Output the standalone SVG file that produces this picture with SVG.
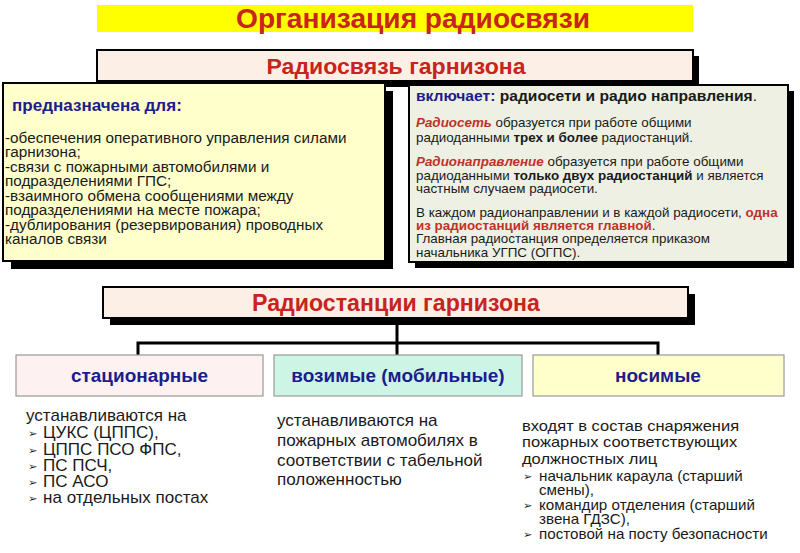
<svg xmlns="http://www.w3.org/2000/svg" width="800" height="553" viewBox="0 0 800 553">
<style>
text{font-family:"Liberation Sans",Arial,sans-serif;fill:#1a1a1a}
.h{font-weight:bold;fill:#c8231c;text-anchor:middle}
.blue{font-weight:bold;fill:#1c1c8c}
.red{font-weight:bold;fill:#c0302c}
.redi{font-weight:bold;font-style:italic;fill:#c0302c}
.b{font-weight:bold}
.box{stroke:#000;stroke-width:2}
.sh{fill:#000}
.cat{stroke:#999;stroke-width:1.2}
.cattx{font-weight:bold;fill:#1c1c8c;font-size:17.5px;text-anchor:middle}
.bul{font-family:"DejaVu Sans",sans-serif;font-size:10.5px}
.conn{stroke:#000;stroke-width:3;fill:none}
</style>
<rect width="800" height="553" fill="#fff"/>
<g id="title">
<rect x="97" y="5" width="596" height="27" fill="#ffff00"/>
<text class="h" x="413" y="28" font-size="27" textLength="354" lengthAdjust="spacingAndGlyphs">Организация радиосвязи</text>
</g>
<g id="garrison-radio">
<rect class="sh" x="103" y="56" width="596" height="31"/>
<rect class="box" x="97" y="50" width="596" height="31" fill="#fcefe6"/>
<text class="h" x="396" y="74" font-size="22" textLength="259" lengthAdjust="spacingAndGlyphs">Радиосвязь гарнизона</text>
</g>
<g id="purpose">
<rect class="sh" x="11" y="91" width="382" height="178"/>
<rect class="box" x="3" y="83" width="382" height="178" fill="#ffffcc"/>
<text class="blue" x="12" y="111" font-size="15.7" transform="matrix(1.085 0 0 1 -1.02 0)">предназначена для:</text>
<g font-size="14.1" transform="matrix(1.085 0 0 1 -0.425 0)">
<text x="5" y="143">-обеспечения оперативного управления силами</text>
<text x="5" y="157.5">гарнизона;</text>
<text x="5" y="172">-связи с пожарными автомобилями и</text>
<text x="5" y="186.5">подразделениями ГПС;</text>
<text x="5" y="201">-взаимного обмена сообщениями между</text>
<text x="5" y="215.5">подразделениями на месте пожара;</text>
<text x="5" y="230">-дублирования (резервирования) проводных</text>
<text x="5" y="244.5">каналов связи</text>
</g>
</g>
<g id="includes">
<rect class="sh" x="415" y="91" width="379" height="177"/>
<rect class="box" x="409" y="85" width="379" height="177" fill="#eef0e3"/>
<g transform="matrix(1.085 0 0 1 -35.36 0)">
<text x="416" y="101" font-size="14.4"><tspan class="blue">включает:</tspan><tspan class="b"> радиосети и радио направления</tspan>.</text>
<g font-size="12.35">
<text x="416" y="127"><tspan class="redi">Радиосеть</tspan> образуется при работе общими</text>
<text x="416" y="142">радиоданными <tspan class="b">трех и более</tspan> радиостанций.</text>
<text x="416" y="166"><tspan class="redi">Радионаправление</tspan> образуется при работе общими</text>
<text x="416" y="180">радиоданными <tspan class="b">только двух радиостанций</tspan> и является</text>
<text x="416" y="193">частным случаем радиосети.</text>
<text x="416" y="217">В каждом радионаправлении и в каждой радиосети, <tspan class="red">одна</tspan></text>
<text x="416" y="230"><tspan class="red">из радиостанций является главной</tspan>.</text>
<text x="416" y="243">Главная радиостанция определяется приказом</text>
<text x="416" y="257">начальника УГПС (ОГПС).</text>
</g>
</g>
</g>
<g id="stations">
<rect class="sh" x="110" y="294" width="585" height="31"/>
<rect class="box" x="103" y="287" width="585" height="31" fill="#fcefe6"/>
<text class="h" x="396" y="311" font-size="23" textLength="288" lengthAdjust="spacingAndGlyphs">Радиостанции гарнизона</text>
</g>
<g id="connectors">
<path class="conn" d="M397 325V343M138 343H658M138 341.5V356M397 343V356M658 341.5V356"/>
</g>
<g id="stationary">
<rect class="cat" x="16" y="355" width="247" height="41" fill="#fdf1f1"/>
<text class="cattx" x="139.5" y="382" transform="matrix(1.085 0 0 1 -11.86 0)">стационарные</text>
<g font-size="15.7" transform="matrix(1.085 0 0 1 -2.21 0)">
<text x="26" y="421">устанавливаются на</text>
<text class="bul" x="27.8" y="437">➢</text><text x="41.7" y="438">ЦУКС (ЦППС),</text>
<text class="bul" x="27.8" y="454">➢</text><text x="41.7" y="455">ЦППС ПСО ФПС,</text>
<text class="bul" x="27.8" y="470">➢</text><text x="41.7" y="471">ПС ПСЧ,</text>
<text class="bul" x="27.8" y="486">➢</text><text x="41.7" y="487">ПС АСО</text>
<text class="bul" x="27.8" y="502">➢</text><text x="41.7" y="503">на отдельных постах</text>
</g>
</g>
<g id="mobile">
<rect class="cat" x="274" y="355" width="248" height="41" fill="#ccf5e6"/>
<text class="cattx" x="398" y="382" transform="matrix(1.085 0 0 1 -33.83 0)">возимые (мобильные)</text>
<g font-size="15.7" transform="matrix(1.085 0 0 1 -23.545 0)">
<text x="277" y="426">устанавливаются на</text>
<text x="277" y="446">пожарных автомобилях в</text>
<text x="277" y="466">соответствии с табельной</text>
<text x="277" y="485">положенностью</text>
</g>
</g>
<g id="portable">
<rect class="cat" x="533" y="355" width="251" height="41" fill="#ffffcc"/>
<text class="cattx" x="658" y="382" transform="matrix(1.085 0 0 1 -55.93 0)">носимые</text>
<g transform="matrix(1.085 0 0 1 -44.37 0)">
<g font-size="15.2">
<text x="522" y="431">входят в состав снаряжения</text>
<text x="522" y="447">пожарных соответствующих</text>
<text x="522" y="464">должностных лиц</text>
</g>
<g font-size="14">
<text class="bul" x="523" y="480">➢</text><text x="537.7" y="481">начальник караула (старший</text>
<text x="537.7" y="495">смены),</text>
<text class="bul" x="523" y="509">➢</text><text x="537.7" y="510">командир отделения (старший</text>
<text x="537.7" y="524">звена ГДЗС),</text>
<text class="bul" x="523" y="538">➢</text><text x="537.7" y="539">постовой на посту безопасности</text>
</g>
</g>
</g>
</svg>
